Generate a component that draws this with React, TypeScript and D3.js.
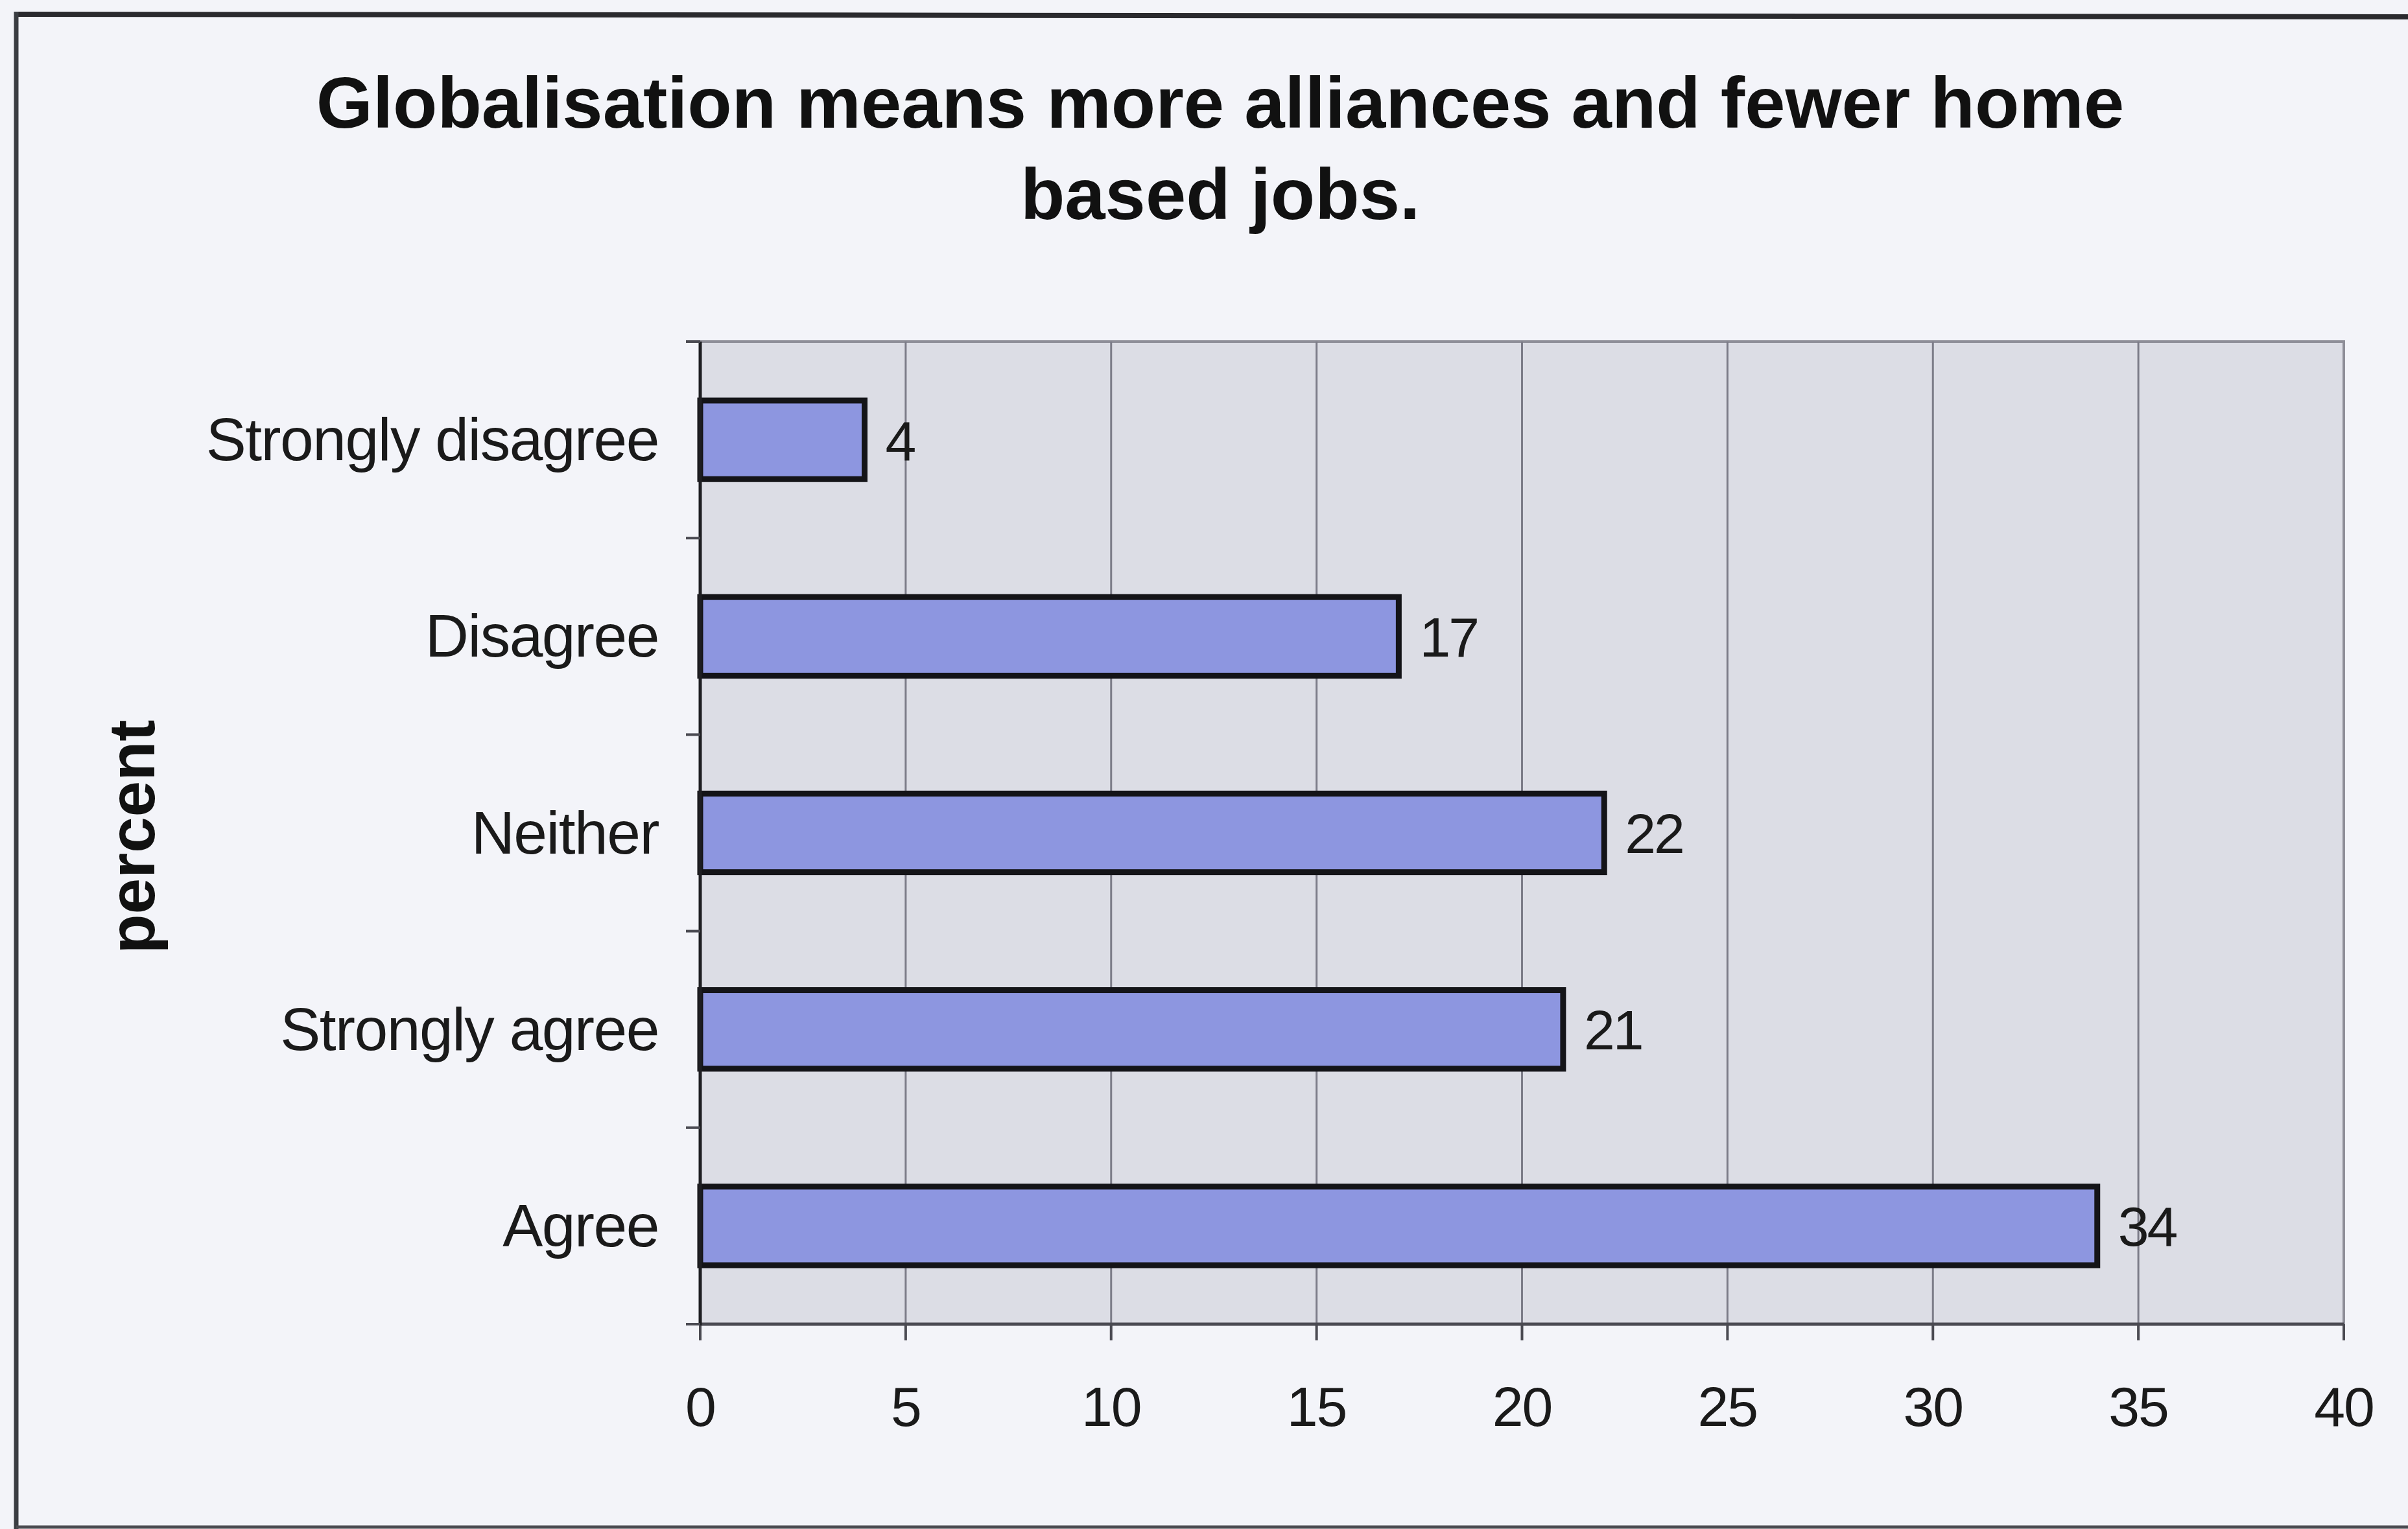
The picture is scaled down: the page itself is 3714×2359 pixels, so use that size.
import React from "react";
import * as d3 from "d3";

const categories = ["Strongly disagree", "Disagree", "Neither", "Strongly agree", "Agree"];
const values = [4, 17, 22, 21, 34];
const xTicks = [0, 5, 10, 15, 20, 25, 30, 35, 40];
const titleLines = ["Globalisation means more alliances and fewer home", "based jobs."];
const yAxisTitle = "percent";

const W = 3714;
const H = 2359;
const plot = { left: 1080, right: 3615, top: 527, bottom: 2043 };
const FONT = "'Liberation Sans', Arial, Helvetica, sans-serif";

export default function App() {
  const x = d3.scaleLinear().domain([0, 40]).range([plot.left, plot.right]);
  const y = d3
    .scaleBand<string>()
    .domain(categories)
    .range([plot.top, plot.bottom])
    .paddingInner(0.6)
    .paddingOuter(0.3);
  const step = y.step();
  const boundaries = d3.range(categories.length + 1).map((i) => plot.top + i * step);

  return (
    <svg
      width={W}
      height={H}
      viewBox={`0 0 ${W} ${H}`}
      style={{ position: "absolute", left: 0, top: 0, display: "block" }}
    >
      <rect x={0} y={0} width={W} height={H} fill="#f3f4f9" />
      {/* frame */}
      <line x1={25} y1={22} x2={W} y2={26} stroke="#2a2a2e" strokeWidth={8} />
      <line x1={25} y1={18} x2={25} y2={H} stroke="#3a3d42" strokeWidth={7} />
      <line x1={25} y1={H - 3} x2={W} y2={H - 3} stroke="#4a4a50" strokeWidth={5} />

      {/* title */}
      {titleLines.map((t, i) => (
        <text
          key={i}
          x={1882}
          y={197 + i * 141}
          textAnchor="middle"
          fontFamily={FONT}
          fontWeight="bold"
          fontSize={112}
          fill="#111"
        >
          {t}
        </text>
      ))}

      {/* plot area */}
      <rect
        x={plot.left}
        y={plot.top}
        width={plot.right - plot.left}
        height={plot.bottom - plot.top}
        fill="#dcdde5"
        stroke="#8e8e98"
        strokeWidth={4}
      />

      {/* gridlines */}
      {xTicks.slice(1, -1).map((t) => (
        <line
          key={"g" + t}
          x1={x(t)}
          x2={x(t)}
          y1={plot.top}
          y2={plot.bottom}
          stroke="#7c7c88"
          strokeWidth={3}
        />
      ))}

      {/* bars */}
      {categories.map((c, i) => (
        <rect
          key={"b" + c}
          x={x(0)}
          y={y(c)!}
          width={x(values[i]) - x(0)}
          height={y.bandwidth()}
          fill="#8d96e0"
          stroke="#141418"
          strokeWidth={9}
        />
      ))}

      {/* value labels */}
      {categories.map((c, i) => (
        <text
          key={"v" + c}
          x={x(values[i]) + 32}
          y={y(c)! + y.bandwidth() / 2}
          dy="0.36em"
          fontFamily={FONT}
          fontSize={86}
          letterSpacing={-3}
          fill="#1a1a1a"
        >
          {values[i]}
        </text>
      ))}

      {/* x axis */}
      <line x1={plot.left} x2={plot.right} y1={plot.bottom} y2={plot.bottom} stroke="#4a4a52" strokeWidth={5} />
      {xTicks.map((t) => (
        <g key={"xt" + t}>
          <line x1={x(t)} x2={x(t)} y1={plot.bottom} y2={plot.bottom + 25} stroke="#4a4a52" strokeWidth={4} />
          <text
            x={x(t)}
            y={2200}
            textAnchor="middle"
            fontFamily={FONT}
            fontSize={86}
            letterSpacing={-2}
            fill="#1a1a1a"
          >
            {t}
          </text>
        </g>
      ))}

      {/* y axis */}
      <line x1={plot.left} x2={plot.left} y1={plot.top} y2={plot.bottom + 2} stroke="#1e1e22" strokeWidth={5} />
      {boundaries.map((b, i) => (
        <line key={"yt" + i} x1={plot.left - 22} x2={plot.left} y1={b} y2={b} stroke="#4a4a52" strokeWidth={4} />
      ))}
      {categories.map((c) => (
        <text
          key={"c" + c}
          x={plot.left - 64}
          y={y(c)! + y.bandwidth() / 2}
          dy="0.34em"
          textAnchor="end"
          fontFamily={FONT}
          fontSize={93}
          letterSpacing={-1.5}
          fill="#1a1a1a"
        >
          {c}
        </text>
      ))}

      {/* y axis title */}
      <text
        transform={`translate(238, 1291) rotate(-90)`}
        textAnchor="middle"
        fontFamily={FONT}
        fontWeight="bold"
        fontSize={100}
        fill="#111"
      >
        {yAxisTitle}
      </text>
    </svg>
  );
}
